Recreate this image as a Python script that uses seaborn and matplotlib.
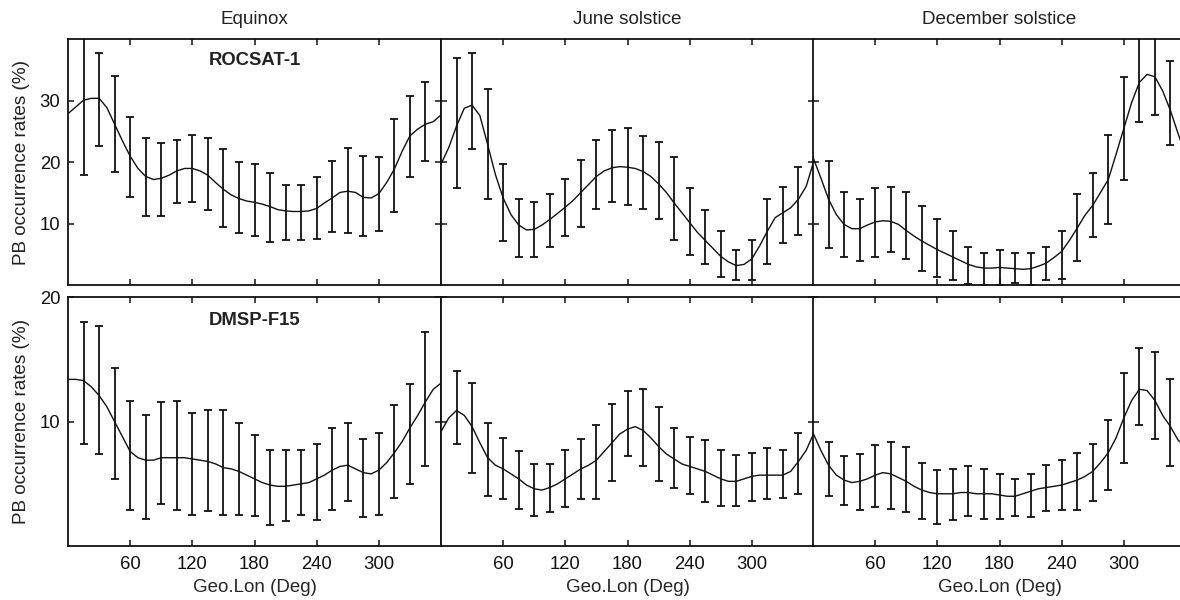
import matplotlib
matplotlib.use("Agg")
import matplotlib.pyplot as plt
import numpy as np
import seaborn as sns

# ---------------- data ----------------
lon_curve = [0, 7.5, 15, 22.5, 30, 37.5, 45, 52.5, 60, 67.5, 75, 82.5, 90, 97.5,
             105, 112.5, 120, 127.5, 135, 142.5, 150, 157.5, 165, 172.5, 180,
             187.5, 195, 202.5, 210, 217.5, 225, 232.5, 240, 247.5, 255, 262.5,
             270, 277.5, 285, 292.5, 300, 307.5, 315, 322.5, 330, 337.5, 345,
             352.5, 360]
lon_bars = [15, 30, 45, 60, 75, 90, 105, 120, 135, 150, 165, 180, 195, 210,
            225, 240, 255, 270, 285, 300, 315, 330, 345]

seasons = ["Equinox", "June solstice", "December solstice"]
satellites = ["ROCSAT-1", "DMSP-F15"]
x_ticks = [60, 120, 180, 240, 300]
y_ticks_top = [10, 20, 30]
y_ticks_bottom = [10, 20]

# ROCSAT-1
roc_equinox_curve = [27.9, 29.0, 30.1, 30.4, 30.4, 28.9, 26.2, 23.5, 21.0, 19.0, 17.7, 17.2,
                     17.4, 17.9, 18.6, 19.0, 19.0, 18.6, 17.9, 16.7, 15.6, 14.7, 14.1, 13.7,
                     13.5, 13.2, 12.8, 12.3, 12.1, 12.0, 12.0, 12.1, 12.5, 13.4, 14.2, 15.1,
                     15.3, 15.1, 14.3, 14.2, 14.9, 16.7, 18.9, 21.8, 24.3, 25.4, 26.2, 26.6, 27.7]
roc_equinox_lo = [17.9, 22.7, 18.5, 14.4, 11.2, 11.2, 13.4, 13.6, 12.2, 9.5, 8.5, 8.0,
                  7.1, 7.4, 7.4, 7.6, 8.6, 8.5, 8.0, 8.8, 12.0, 17.6, 20.2]
roc_equinox_hi = [42.7, 37.8, 34.0, 27.3, 23.9, 23.1, 23.6, 24.4, 23.9, 22.2, 20.0, 19.8,
                  18.3, 16.3, 16.3, 17.6, 20.2, 22.4, 21.1, 20.8, 27.1, 30.7, 33.1]

roc_june_curve = [19.7, 22.4, 25.9, 28.8, 29.3, 27.6, 22.9, 18.0, 14.2, 11.5, 9.8, 9.0,
                  9.1, 9.8, 10.7, 11.7, 12.7, 13.8, 15.1, 16.4, 17.7, 18.6, 19.1, 19.3,
                  19.2, 19.0, 18.5, 17.7, 16.5, 15.1, 13.4, 11.8, 10.2, 8.6, 7.3, 6.0,
                  4.7, 3.8, 3.2, 3.4, 4.3, 6.4, 8.8, 11.0, 11.8, 12.6, 14.0, 16.1, 20.3]
roc_june_lo = [15.9, 22.2, 14.1, 7.2, 4.6, 4.6, 6.2, 8.0, 9.5, 12.4, 13.6, 13.0,
               12.4, 10.7, 7.3, 4.9, 3.4, 1.4, 0.8, 0.8, 3.4, 6.8, 8.1]
roc_june_hi = [37.0, 37.8, 31.9, 19.7, 14.0, 13.6, 14.9, 17.3, 20.4, 23.6, 25.3, 25.5,
               24.3, 23.3, 20.9, 15.8, 12.2, 8.9, 5.7, 7.3, 14.0, 16.0, 19.2]

roc_dec_curve = [20.8, 17.5, 14.0, 11.5, 9.9, 9.2, 9.2, 9.8, 10.3, 10.5, 10.4, 9.9,
                 8.9, 8.0, 7.2, 6.5, 5.8, 5.2, 4.6, 4.0, 3.4, 3.0, 2.8, 2.8,
                 2.9, 2.8, 2.7, 2.6, 2.7, 3.1, 3.6, 4.5, 5.5, 7.3, 9.3, 11.4,
                 13.0, 15.1, 17.2, 21.3, 25.5, 29.7, 33.0, 34.3, 33.9, 31.6, 28.4, 24.6, 21.0]
roc_dec_lo = [6.1, 4.6, 3.9, 4.6, 5.4, 4.2, 2.3, 1.4, 0.9, 0.2, 0.1, 0.0,
              0.4, 0.1, 0.8, 1.1, 3.9, 7.8, 10.0, 17.2, 26.5, 27.7, 22.8]
roc_dec_hi = [20.2, 15.1, 14.0, 15.9, 16.0, 15.1, 12.9, 10.7, 8.9, 6.3, 5.3, 5.8,
              5.2, 5.2, 6.3, 8.8, 14.9, 18.2, 24.4, 33.8, 40.5, 40.5, 36.5]

# DMSP-F15
dmsp_equinox_curve = [13.4, 13.4, 13.3, 12.8, 12.1, 11.2, 10.0, 8.8, 7.6, 7.1, 6.9, 6.9,
                      7.1, 7.1, 7.1, 7.1, 7.0, 6.9, 6.8, 6.6, 6.3, 6.2, 6.0, 5.7,
                      5.4, 5.1, 4.9, 4.8, 4.8, 4.9, 5.0, 5.1, 5.4, 5.7, 6.1, 6.4,
                      6.5, 6.2, 5.9, 5.8, 6.1, 6.7, 7.5, 8.4, 9.5, 10.5, 11.6, 12.6, 13.1]
dmsp_equinox_lo = [8.2, 7.4, 5.4, 2.9, 2.2, 3.4, 2.9, 2.5, 2.8, 2.5, 2.5, 2.4,
                   1.7, 2.0, 2.5, 2.1, 2.9, 3.6, 2.3, 2.5, 3.9, 5.0, 6.4]
dmsp_equinox_hi = [18.0, 17.7, 14.3, 11.7, 10.5, 11.6, 11.7, 10.7, 10.9, 10.9, 9.9, 8.9,
                   7.7, 7.7, 7.7, 8.2, 9.5, 9.9, 8.6, 9.1, 11.3, 13.0, 17.2]

dmsp_june_curve = [9.2, 10.3, 10.9, 10.5, 9.6, 8.3, 7.1, 6.5, 6.2, 5.8, 5.4, 4.9,
                   4.6, 4.5, 4.7, 5.0, 5.4, 5.8, 6.2, 6.5, 6.9, 7.6, 8.3, 9.0,
                   9.4, 9.6, 9.3, 8.7, 8.0, 7.4, 7.0, 6.6, 6.4, 6.2, 6.0, 5.7,
                   5.4, 5.2, 5.2, 5.4, 5.6, 5.7, 5.7, 5.7, 5.7, 6.0, 6.8, 7.7, 9.1]
dmsp_june_lo = [8.2, 5.9, 4.0, 3.8, 3.0, 2.4, 2.7, 3.1, 3.8, 3.8, 5.2, 7.2,
                6.4, 5.2, 4.7, 4.2, 3.5, 3.2, 3.2, 3.6, 3.8, 3.9, 4.2]
dmsp_june_hi = [14.1, 13.1, 9.9, 8.7, 7.6, 6.6, 6.6, 7.7, 8.6, 9.7, 11.4, 12.5,
                12.6, 11.2, 9.5, 8.8, 8.5, 7.7, 7.3, 7.5, 7.9, 7.7, 9.1]

dmsp_dec_curve = [9.1, 7.7, 6.5, 5.7, 5.3, 5.1, 5.2, 5.4, 5.7, 5.9, 5.8, 5.5,
                  5.2, 4.8, 4.5, 4.3, 4.2, 4.2, 4.2, 4.3, 4.3, 4.2, 4.2, 4.2,
                  4.1, 4.0, 4.0, 4.2, 4.4, 4.6, 4.7, 4.8, 4.9, 5.1, 5.3, 5.6,
                  6.0, 6.7, 7.5, 8.7, 10.3, 11.7, 12.6, 12.5, 11.7, 10.5, 9.6, 8.5, 8.0]
dmsp_dec_lo = [4.0, 3.3, 2.9, 3.1, 3.0, 2.7, 2.2, 1.8, 2.1, 2.4, 2.2, 2.2,
               2.4, 2.3, 2.8, 2.9, 2.9, 3.6, 4.5, 6.7, 9.7, 8.6, 6.4]
dmsp_dec_hi = [8.4, 7.2, 7.4, 8.1, 8.4, 8.0, 6.7, 6.1, 6.2, 6.4, 6.2, 5.8,
               5.4, 5.8, 6.5, 6.9, 7.5, 8.2, 10.1, 13.9, 15.9, 15.6, 13.4]

panels = [
    [(roc_equinox_curve, roc_equinox_lo, roc_equinox_hi),
     (roc_june_curve, roc_june_lo, roc_june_hi),
     (roc_dec_curve, roc_dec_lo, roc_dec_hi)],
    [(dmsp_equinox_curve, dmsp_equinox_lo, dmsp_equinox_hi),
     (dmsp_june_curve, dmsp_june_lo, dmsp_june_hi),
     (dmsp_dec_curve, dmsp_dec_lo, dmsp_dec_hi)],
]

# ---------------- style ----------------
sns.set_theme(style="ticks")
plt.rcParams["font.family"] = ["Liberation Sans", "DejaVu Sans"]
plt.rcParams.update({
    "axes.edgecolor": "#111111",
    "axes.linewidth": 1.3,
    "xtick.color": "#111111",
    "ytick.color": "#111111",
    "text.color": "#222222",
})

W, H = 1180, 600
fig = plt.figure(figsize=(W / 100, H / 100), dpi=100)
fig.patch.set_facecolor("white")

col_x = [68, 441, 813]
panel_w = 373
row_y = [(39.3, 285.3), (297.3, 546.0)]
ylims = [(0, 40), (0, 20)]
yticks = [y_ticks_top, y_ticks_bottom]
label_y = [36.6, 18.1]
FS = 13.3
ink = "#111111"

for r in range(2):
    top, bot = row_y[r]
    for c in range(3):
        ax = fig.add_axes([col_x[c] / W, 1 - bot / H, panel_w / W, (bot - top) / H])
        curve, lo, hi = panels[r][c]
        lo_a = np.array(lo)
        hi_a = np.array(hi)
        mid = (lo_a + hi_a) / 2
        ax.errorbar(lon_bars, mid, yerr=[mid - lo_a, hi_a - mid], fmt="none",
                    ecolor=ink, elinewidth=1.3, capsize=2.7, capthick=1.3, zorder=2)
        sns.lineplot(x=lon_curve, y=curve, ax=ax, color=ink, linewidth=1.0,
                     zorder=3, legend=False)
        ax.set_xlim(0, 360)
        ax.set_ylim(*ylims[r])
        ax.set_xticks(x_ticks)
        ax.set_yticks(yticks[r])
        ax.tick_params(axis="both", direction="in", top=True, right=True,
                       length=4, width=1.1, labelsize=FS)
        ax.tick_params(axis="x", pad=7.5)
        ax.tick_params(axis="y", pad=5.5)
        ax.set_xlabel("")
        ax.set_ylabel("")
        for s in ax.spines.values():
            s.set_visible(True)
            s.set_linewidth(1.3)
            s.set_color(ink)
        if c > 0:
            ax.tick_params(labelleft=False)
        if r == 0:
            ax.tick_params(labelbottom=False)
            ax.set_title(seasons[c], fontsize=FS + 0.3, pad=10.8, color="#222222")
        else:
            ax.set_xlabel("Geo.Lon (Deg)", fontsize=FS + 0.2, labelpad=4)
        if c == 0:
            ax.text(180, label_y[r], satellites[r], ha="center", va="center",
                    fontsize=FS, fontweight="bold", color="#222222")
    fig.text(22 / W, 1 - (top + bot) / 2 / H, "PB occurrence rates (%)",
             rotation=90, ha="center", va="center", fontsize=FS + 0.3)

fig.savefig("out.png", dpi=100, facecolor="white")
